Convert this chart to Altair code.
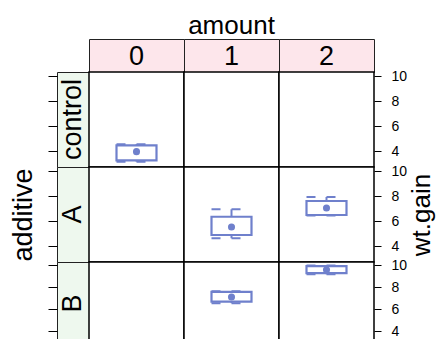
import altair as alt
import pandas as pd

# ---- data ----
additive_levels = ["control", "A", "B"]
amount_levels = ["0", "1", "2"]

box_additive = ["control", "A", "A", "B", "B"]
box_amount = ["0", "1", "2", "1", "2"]
wt_min = [3.15, 4.62, 6.44, 6.55, 9.20]
wt_q1 = [3.25, 4.88, 6.48, 6.70, 9.30]
wt_med = [3.95, 5.52, 7.04, 7.12, 9.60]
wt_q3 = [4.45, 6.34, 7.60, 7.58, 9.95]
wt_max = [4.55, 6.94, 7.92, 7.64, 10.00]

y_ticks = [4, 6, 8, 10]
y_limits = [2.72, 10.32]

stats = pd.DataFrame({
    "additive": box_additive,
    "amount": box_amount,
    "lo": wt_min,
    "q1": wt_q1,
    "med": wt_med,
    "q3": wt_q3,
    "hi": wt_max,
})

BOX = "#6f80cc"
FONT = "Liberation Sans"
PW = 95
ROW_H = [95, 95, 83]   # last row is cut by the window edge in the reference
SW, SH = 32, 33
BIG = 27


def panel(add, amt, r, c):
    base = alt.Chart(stats).transform_filter(
        (alt.datum.additive == add) & (alt.datum.amount == amt)
    )
    xs = alt.Scale(domain=[amt], paddingOuter=0.6875, paddingInner=0)
    if c == 0:
        yaxis = alt.Axis(orient="left", offset=SW, values=y_ticks, tickCount=10,
                         labels=False, tickSize=9, tickColor="black", tickWidth=1,
                         domain=False, grid=False, title="additive" if r == 1 else "",
                         titleFontSize=BIG, titleFont=FONT, titleFontWeight="normal",
                         titleColor="black", titlePadding=10, titleAngle=270)
    elif c == 2:
        yaxis = alt.Axis(orient="right", values=y_ticks, tickCount=10, tickSize=7,
                         tickColor="black", tickWidth=1, domain=False, grid=False,
                         labelFontSize=14, labelFont=FONT, labelColor="black",
                         labelPadding=10, labelAlign="left", labelOverlap=False,
                         labelFlush=False, labelBound=False,
                         title="wt.gain" if r == 1 else "", titleFontSize=26,
                         titleFont=FONT, titleFontWeight="normal", titleColor="black",
                         titleAngle=270, titleBaseline="top", titlePadding=2)
    else:
        yaxis = None
    ys = alt.Scale(domain=y_limits, nice=False, zero=False)
    x = alt.X("amount:N", scale=xs, axis=None)

    whisk_hi = base.mark_rule(color=BOX, strokeWidth=2, strokeDash=[9, 11]).encode(
        x=x, y=alt.Y("q3:Q", scale=ys, axis=yaxis), y2="hi:Q")
    whisk_lo = base.mark_rule(color=BOX, strokeWidth=2, strokeDash=[9, 11]).encode(
        x=x, y=alt.Y("lo:Q", scale=ys), y2="q1:Q")
    cap_hi = base.mark_rule(color=BOX, strokeWidth=2, strokeDash=[9, 11]).encode(
        x=alt.X("amount:N", scale=xs, axis=None, bandPosition=0),
        x2=alt.X2("amount:N", bandPosition=1),
        y=alt.Y("hi:Q", scale=ys))
    cap_lo = base.mark_rule(color=BOX, strokeWidth=2, strokeDash=[9, 11]).encode(
        x=alt.X("amount:N", scale=xs, axis=None, bandPosition=0),
        x2=alt.X2("amount:N", bandPosition=1),
        y=alt.Y("lo:Q", scale=ys))
    box = base.mark_bar(fillOpacity=0, stroke=BOX, strokeWidth=2.2).encode(
        x=x, y=alt.Y("q1:Q", scale=ys), y2="q3:Q")
    dot = base.mark_circle(color=BOX, size=50, opacity=1).encode(
        x=x, y=alt.Y("med:Q", scale=ys))
    return alt.layer(whisk_hi, whisk_lo, cap_hi, cap_lo, box, dot).properties(
        width=PW, height=ROW_H[r],
        view=alt.ViewBackground(fill="white", stroke="black", strokeWidth=1.5),
    )


def strip_top(label, with_title):
    ch = alt.Chart(pd.DataFrame({"label": [label]})).mark_text(
        font=FONT, fontSize=BIG, color="black", dy=1).encode(text="label:N")
    props = dict(width=PW, height=SH,
                 view=alt.ViewBackground(fill="#fde6eb", stroke="#222222", strokeWidth=1))
    if with_title:
        props["title"] = alt.Title("amount", font=FONT, fontSize=26, fontWeight="normal",
                                   color="black", offset=0)
    return ch.properties(**props)


def strip_left(label, r):
    return alt.Chart(pd.DataFrame({"label": [label]})).mark_text(
        font=FONT, fontSize=BIG, color="black", angle=270).encode(text="label:N").properties(
        width=SW, height=ROW_H[r],
        view=alt.ViewBackground(fill="#eef8ee", stroke="#222222", strokeWidth=1))


spacer = alt.Chart(pd.DataFrame({"label": [""]})).mark_text().encode(
    text="label:N").properties(width=SW, height=SH,
                               view=alt.ViewBackground(strokeOpacity=0, fillOpacity=0))

cells = [spacer]
for i, amt in enumerate(amount_levels):
    cells.append(strip_top(amt, i == 1))
for r, add in enumerate(additive_levels):
    cells.append(strip_left(add, r))
    for c, amt in enumerate(amount_levels):
        cells.append(panel(add, amt, r, c))

# the bottom row runs past the window in the reference: a negative bottom
# padding crops it the same way
chart = alt.concat(*cells, columns=4, spacing=0, bounds="flush", align="each").resolve_scale(
    x="independent", y="independent").properties(
    padding={"left": 0, "top": 4, "right": 0, "bottom": -7},
    background="white",
).configure(font=FONT)

chart.save("out.html", embed_options={"renderer": "svg", "actions": False})
